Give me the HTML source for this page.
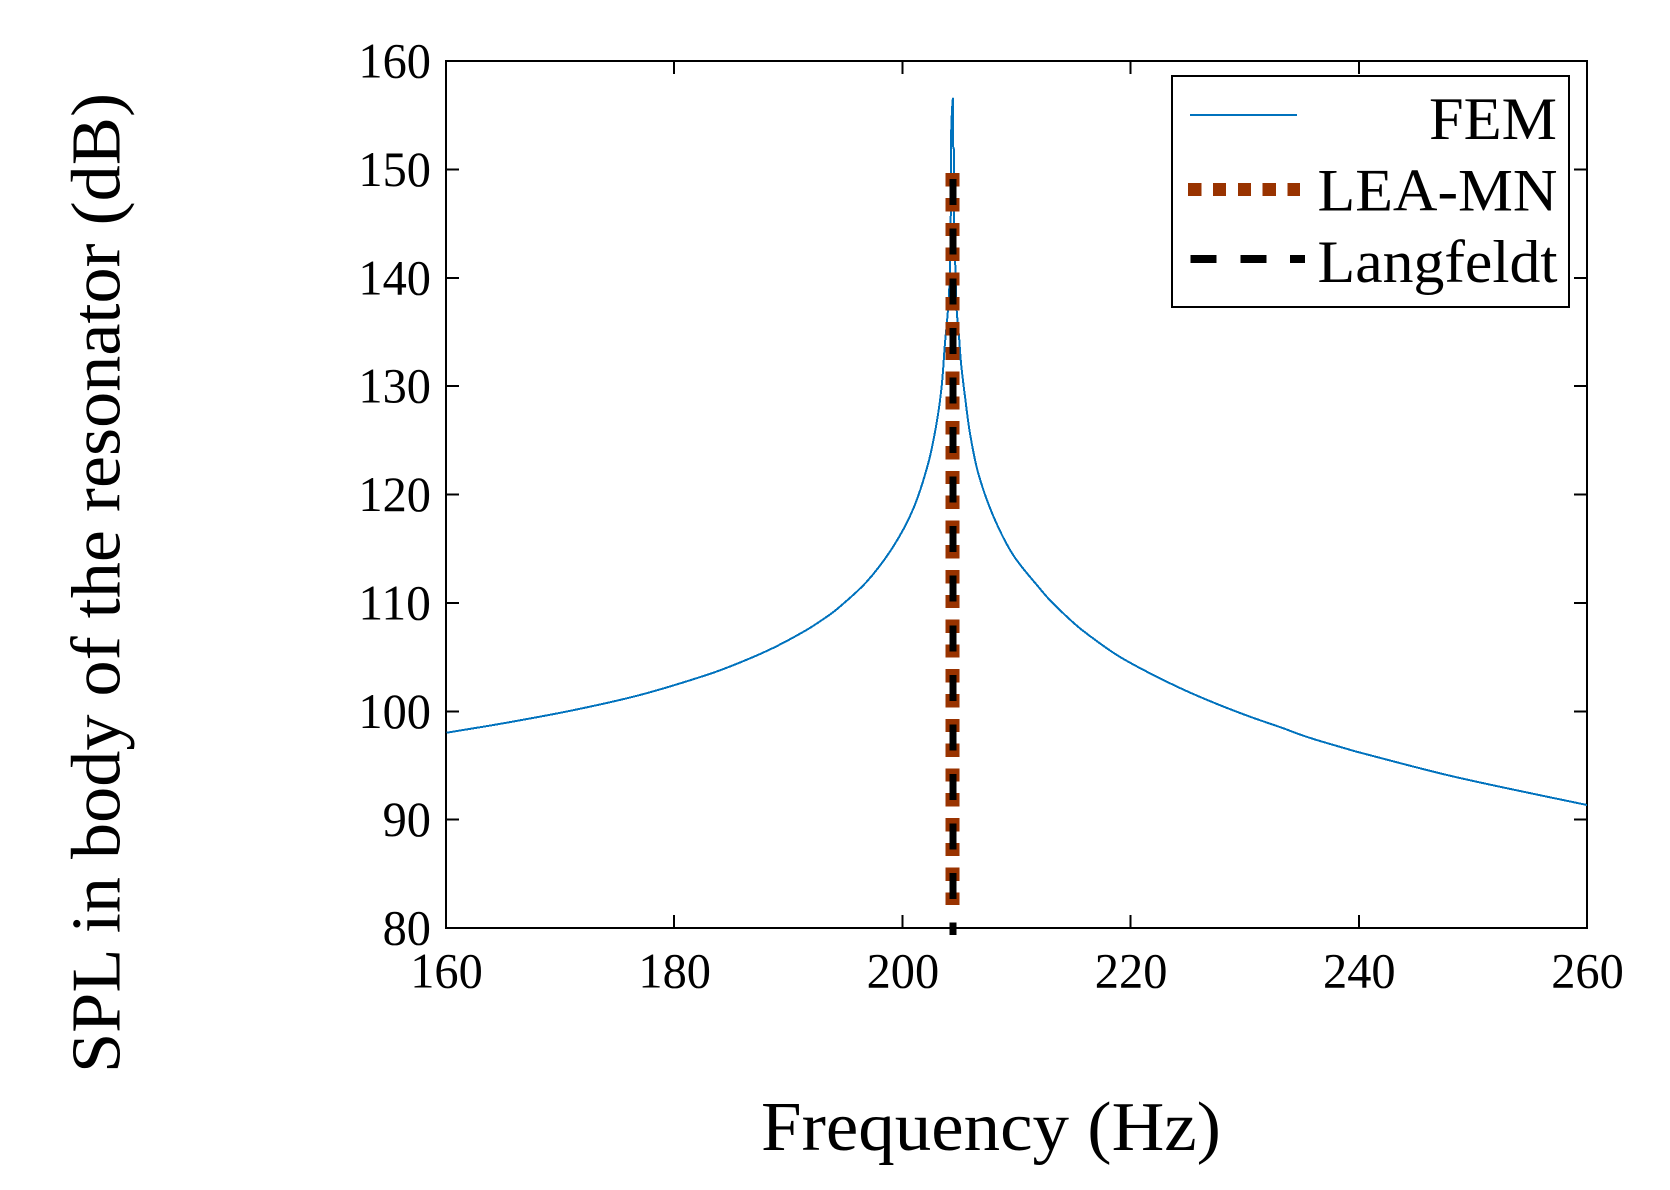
<!DOCTYPE html>
<html lang="en">
<head>
<meta charset="utf-8">
<title>SPL in body of the resonator vs frequency</title>
<style>
html,body{margin:0;padding:0;background:#fff;width:1670px;height:1190px;overflow:hidden}
svg{display:block}
text{font-family:"Liberation Serif",serif;fill:#000}
</style>
</head>
<body>
<svg id="chart" xmlns="http://www.w3.org/2000/svg" width="1670" height="1190" viewBox="0 0 1670 1190">
  <rect x="0" y="0" width="1670" height="1190" fill="#fff"/>
  <g id="axes"></g>
  <g id="series"></g>
  <text x="761" y="1150" font-size="70" textLength="460" lengthAdjust="spacingAndGlyphs">Frequency (Hz)</text>
  <text transform="translate(119.5,1073) rotate(-90)" x="0" y="0" font-size="70" textLength="980" lengthAdjust="spacingAndGlyphs">SPL in body of the resonator (dB)</text>
  <g>
    <rect x="1172" y="76" width="397" height="231" fill="#fff" stroke="#000" stroke-width="2" shape-rendering="crispEdges"/>
    <line x1="1190" y1="115" x2="1297" y2="115" stroke="#0072BD" stroke-width="2" shape-rendering="crispEdges"/>
    <text x="1429" y="139" font-size="60" textLength="128" lengthAdjust="spacingAndGlyphs">FEM</text>
    <line x1="1188" y1="189.5" x2="1300" y2="189.5" stroke="#993300" stroke-width="13.3" stroke-dasharray="13.3 11.6" shape-rendering="crispEdges"/>
    <text x="1317.5" y="210.5" font-size="60" textLength="240" lengthAdjust="spacingAndGlyphs">LEA-MN</text>
    <line x1="1190.7" y1="259" x2="1305" y2="259" stroke="#000" stroke-width="8" stroke-dasharray="26 23.6" shape-rendering="crispEdges"/>
    <text x="1317.5" y="282" font-size="60" textLength="240" lengthAdjust="spacingAndGlyphs">Langfeldt</text>
  </g>
</svg>
<script>
var xTicks = [160, 180, 200, 220, 240, 260];
var yTicks = [80, 90, 100, 110, 120, 130, 140, 150, 160];
var femFreq = [160.06, 165.3, 171.16, 177, 182.85, 185.77, 188.69, 191.6, 193.07, 194.24, 196.87, 199.2, 200.96, 202.27, 203, 203.44, 203.73, 203.99, 204.17, 204.27, 204.27, 204.35, 204.43, 204.43, 204.52, 204.52, 204.65, 204.76, 204.96, 205.14, 205.49, 205.93, 206.65, 207.97, 209.72, 212.06, 212.93, 214.54, 215.86, 218.78, 221.7, 224.62, 227.55, 230.46, 233.38, 234.85, 236.3, 239.05, 239.8, 247.4, 252.96, 260];
var femSpl = [98.02, 98.94, 100.1, 101.5, 103.35, 104.5, 105.85, 107.5, 108.5, 109.4, 111.95, 115.2, 118.7, 122.9, 126.6, 129.95, 133.95, 137, 140.7, 149.7, 153.1, 155.5, 156.5, 152.2, 151.8, 144.4, 140.7, 137, 134.6, 132.1, 129, 125.6, 121.95, 118, 114.4, 111.3, 110.25, 108.6, 107.4, 105.2, 103.5, 102, 100.68, 99.5, 98.43, 97.85, 97.35, 96.5, 96.27, 94.2, 92.9, 91.35];
var leaMnFreq = [204.38, 204.38];
var leaMnSpl = [149.65, 82.1];
var langfeldtFreq = [204.42, 204.42];
var langfeldtSpl = [149.1, 79.35];

var SVG_NS = 'http://www.w3.org/2000/svg';
var plotLeft = 446, plotRight = 1587, plotTop = 61, plotBottom = 928;
var xMin = 160, xMax = 260, yMin = 80, yMax = 160;
function xScale(v) { return plotLeft + (v - xMin) / (xMax - xMin) * (plotRight - plotLeft); }
function yScale(v) { return plotBottom - (v - yMin) / (yMax - yMin) * (plotBottom - plotTop); }
function make(tag, parent) { var el = document.createElementNS(SVG_NS, tag); parent.appendChild(el); return el; }
function setLine(el, x1, y1, x2, y2) {
  el.setAttribute('x1', x1); el.setAttribute('y1', y1);
  el.setAttribute('x2', x2); el.setAttribute('y2', y2);
  el.setAttribute('stroke', '#000'); el.setAttribute('stroke-width', '2');
  el.setAttribute('shape-rendering', 'crispEdges');
}
function pathFrom(xs, ys) {
  var d = '';
  for (var i = 0; i < xs.length; i++) {
    d += (i ? 'L' : 'M') + xScale(xs[i]).toFixed(2) + ' ' + yScale(ys[i]).toFixed(2);
  }
  return d;
}
function smoothPathFrom(xs, ys) {
  var pts = xs.map(function (v, i) { return [xScale(v), yScale(ys[i])]; });
  function dist(a, b) { return Math.hypot(a[0] - b[0], a[1] - b[1]); }
  function tangent(i) {
    var p = pts[Math.max(i - 1, 0)], n = pts[Math.min(i + 1, pts.length - 1)];
    var l = dist(pts[i], p) + dist(n, pts[i]);
    return [(n[0] - p[0]) / l, (n[1] - p[1]) / l];
  }
  var d = 'M' + pts[0][0].toFixed(2) + ' ' + pts[0][1].toFixed(2);
  for (var i = 0; i < pts.length - 1; i++) {
    var s = dist(pts[i], pts[i + 1]) / 3, t0 = tangent(i), t1 = tangent(i + 1);
    d += 'C' + (pts[i][0] + t0[0] * s).toFixed(2) + ' ' + (pts[i][1] + t0[1] * s).toFixed(2) + ' ' +
         (pts[i + 1][0] - t1[0] * s).toFixed(2) + ' ' + (pts[i + 1][1] - t1[1] * s).toFixed(2) + ' ' +
         pts[i + 1][0].toFixed(2) + ' ' + pts[i + 1][1].toFixed(2);
  }
  return d;
}

var axes = document.getElementById('axes');
var seriesGroup = document.getElementById('series');
var tickLen = 13, digitWidth = 24.2;

var spine = make('rect', axes);


spine.setAttribute('x', plotLeft);
spine.setAttribute('y', plotTop);
spine.setAttribute('width', plotRight - plotLeft);
spine.setAttribute('height', plotBottom - plotTop);
spine.setAttribute('fill', 'none');
spine.setAttribute('stroke', '#000');
spine.setAttribute('stroke-width', '2');
spine.setAttribute('shape-rendering', 'crispEdges');

xTicks.forEach(function (t) {
  var x = xScale(t);
  if (t !== xMin && t !== xMax) {
    var b = make('line', axes);
    
    
    setLine(b, x, plotBottom, x, plotBottom - tickLen);
    var u = make('line', axes);
    
    
    setLine(u, x, plotTop, x, plotTop + tickLen);
  }
  var label = make('text', axes);
  
  
  var w = String(t).length * digitWidth;
  label.setAttribute('x', (x - w / 2 + 0.5).toFixed(2));
  label.setAttribute('y', 987.5);
  label.setAttribute('font-size', '50');
  label.setAttribute('textLength', w);
  label.setAttribute('lengthAdjust', 'spacingAndGlyphs');
  label.textContent = t;
});

yTicks.forEach(function (t) {
  var y = yScale(t);
  if (t !== yMin && t !== yMax) {
    var l = make('line', axes);
    
    
    setLine(l, plotLeft, y, plotLeft + tickLen, y);
    var r = make('line', axes);
    
    
    setLine(r, plotRight, y, plotRight - tickLen, y);
  }
  var label = make('text', axes);
  
  
  var w = String(t).length * digitWidth;
  label.setAttribute('x', (431 - w).toFixed(2));
  label.setAttribute('y', (y + 16.5).toFixed(2));
  label.setAttribute('font-size', '50');
  label.setAttribute('textLength', w);
  label.setAttribute('lengthAdjust', 'spacingAndGlyphs');
  label.textContent = t;
});

var femLine = make('path', seriesGroup);


femLine.setAttribute('d', smoothPathFrom(femFreq, femSpl));
femLine.setAttribute('fill', 'none');
femLine.setAttribute('stroke', '#0072BD');
femLine.setAttribute('stroke-width', '2');
femLine.setAttribute('shape-rendering', 'crispEdges');

var leaLine = make('path', seriesGroup);


leaLine.setAttribute('d', pathFrom(leaMnFreq, leaMnSpl));
leaLine.setAttribute('fill', 'none');
leaLine.setAttribute('stroke', '#993300');
leaLine.setAttribute('stroke-width', '14');
leaLine.setAttribute('stroke-dasharray', '13.3 11.5');
leaLine.setAttribute('shape-rendering', 'crispEdges');

var langLine = make('path', seriesGroup);


langLine.setAttribute('d', pathFrom(langfeldtFreq, langfeldtSpl));
langLine.setAttribute('fill', 'none');
langLine.setAttribute('stroke', '#000');
langLine.setAttribute('stroke-width', '7');
langLine.setAttribute('stroke-dasharray', '26 23.57');
langLine.setAttribute('shape-rendering', 'crispEdges');
</script>
</body>
</html>
